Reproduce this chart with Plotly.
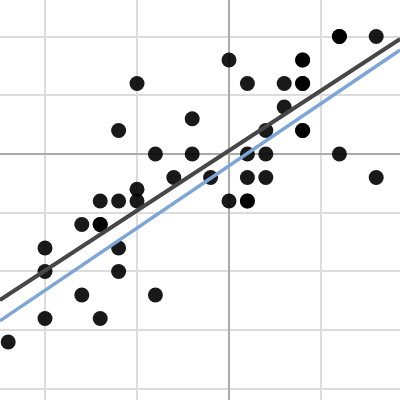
import plotly.graph_objects as go

# scatter data
x_vals = [-5, -6, -4, -2, -2, -3, -5, 6, 6, 8, 0, 4, 4, 1, 3, 4, 4, 3, 2, 4, 4,
          1, 2, 6, -1, 1, 2, 8, 0, 1, 1, -7, -6, -5, -8, -7, -7, -10, -6, -10,
          -6, -8, -4, -10, -7, -12]
y_vals = [6, 2, 0, 3, 0, -2, -3, 10, 10, 10, 8, 8, 8, 6, 6, 6, 6, 4, 2, 2, 2,
          0, 0, 0, -2, -2, -2, -2, -4, -4, -4, -4, -4, -4, -6, -6, -6, -8, -8, -10,
          -10, -12, -12, -14, -14, -16]

# fitted line (dark) and reference line (blue)
fit_x = [-12.45, 9.3]
fit_y = [-12.43, 9.79]
ref_x = [-12.45, 9.3]
ref_y = [-14.2, 8.85]

x_range = [-12.446, 9.293]
y_range = [-20.94, 13.11]

fig = go.Figure()
fig.add_trace(go.Scatter(x=x_vals, y=y_vals, mode="markers",
                         marker=dict(size=15, color="rgba(0,0,0,0.9)", line=dict(width=0)),
                         showlegend=False))
fig.add_trace(go.Scatter(x=fit_x, y=fit_y, mode="lines",
                         line=dict(color="#474747", width=4), showlegend=False))
fig.add_trace(go.Scatter(x=ref_x, y=ref_y, mode="lines",
                         line=dict(color="#7fa5d5", width=3.5), showlegend=False))

fig.add_shape(type="line", xref="paper", x0=0, x1=1, yref="y", y0=-20, y1=-20,
              line=dict(color="#ababab", width=2), layer="below")

fig.update_layout(
    width=400, height=400,
    margin=dict(l=0, r=0, t=0, b=0),
    paper_bgcolor="white", plot_bgcolor="white",
    xaxis=dict(range=x_range, dtick=5, tick0=0, showgrid=True, gridcolor="#dcdcdc",
               gridwidth=2, zeroline=True, zerolinecolor="#ababab", zerolinewidth=2,
               showticklabels=False, ticks="", showline=False),
    yaxis=dict(range=y_range, dtick=5, tick0=0, showgrid=True, gridcolor="#dcdcdc",
               gridwidth=2, zeroline=True, zerolinecolor="#ababab", zerolinewidth=2,
               showticklabels=False, ticks="", showline=False),
)

fig.write_html("out.html",
               config={"displayModeBar": False},
               post_script="document.body.style.margin='0';document.body.style.overflow='hidden';")
